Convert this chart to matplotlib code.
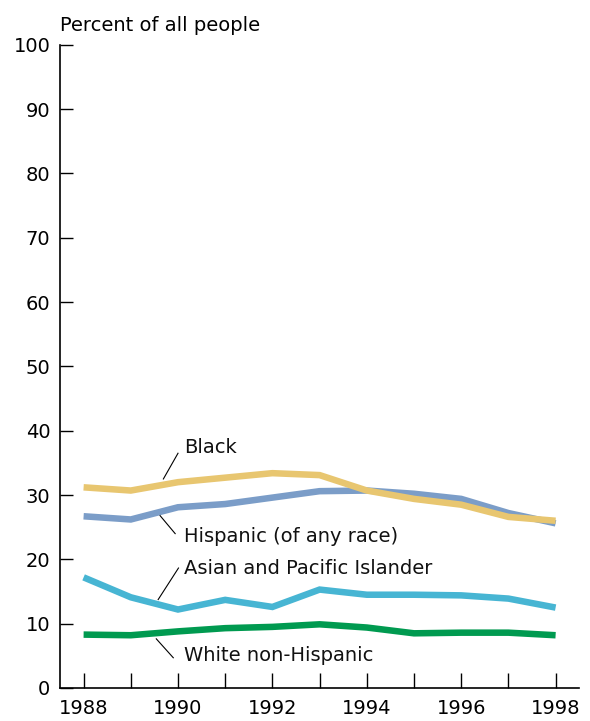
import numpy as np
import matplotlib.pyplot as plt

years = np.arange(1988, 1999)
black = [31.2, 30.7, 32.0, 32.7, 33.4, 33.1, 30.7, 29.4, 28.5, 26.6, 26.0]
hispanic = [26.7, 26.2, 28.1, 28.6, 29.6, 30.6, 30.7, 30.2, 29.4, 27.2, 25.6]
asian = [17.2, 14.1, 12.2, 13.7, 12.6, 15.3, 14.5, 14.5, 14.4, 13.9, 12.5]
white = [8.3, 8.2, 8.8, 9.3, 9.5, 9.9, 9.4, 8.5, 8.6, 8.6, 8.2]

series = [
    ("Black", black, "#E8C670", (1990.13, 37.4), (1989.69, 32.5), (1990.0, 36.5)),
    ("Hispanic (of any race)", hispanic, "#7B9DC8", (1990.13, 23.5), (1989.62, 26.8), (1989.94, 24.0)),
    ("Asian and Pacific Islander", asian, "#47B5D3", (1990.13, 18.6), (1989.58, 13.75), (1990.01, 18.65)),
    ("White non-Hispanic", white, "#009A50", (1990.13, 5.1), (1989.54, 7.64), (1989.90, 4.7)),
]

plt.rcParams['font.family'] = ['DejaVu Sans']
fig = plt.figure(figsize=(5.9, 7.21), dpi=100)
ax = fig.add_axes([0.1017, 0.0458, 0.88, 0.892])

# draw order: hispanic under black
for name, vals, color, lab, p0, p1 in [series[1], series[0], series[2], series[3]]:
    ax.plot(years, vals, color=color, lw=4.7, solid_capstyle='butt', solid_joinstyle='miter')
    ax.text(lab[0], lab[1], name, fontsize=14, va='center', ha='left', color='#111111')
    ax.plot([p0[0], p1[0]], [p0[1], p1[1]], color='black', lw=0.8)

ax.set_xlim(1987.5, 1998.5)
ax.set_ylim(0, 100)
ax.set_yticks(np.arange(0, 101, 10))
ax.set_xticks(years)
ax.set_xticklabels([str(y) if y % 2 == 0 else '' for y in years])
ax.tick_params(axis='y', direction='in', length=9, width=1, labelsize=14, pad=7)
ax.tick_params(axis='x', direction='in', length=11, width=1, labelsize=14, pad=8)
for s in ['top', 'right']:
    ax.spines[s].set_visible(False)
for s in ['left', 'bottom']:
    ax.spines[s].set_linewidth(1.2)
ax.text(0, 1.015, "Percent of all people", transform=ax.transAxes, fontsize=14,
        ha='left', va='bottom')

fig.savefig('out.png', dpi=100)
